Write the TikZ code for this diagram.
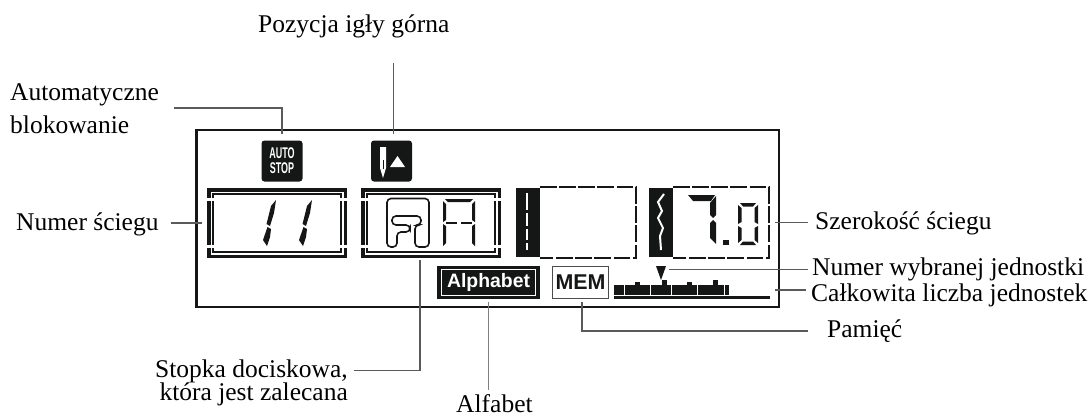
\documentclass[tikz,border=0pt]{standalone}
\usepackage{fontspec}
\setmainfont{Liberation Serif}
\setsansfont{Liberation Sans}
\definecolor{lcdblack}{HTML}{151716}
\definecolor{leadergray}{HTML}{5A5A5A}
\tikzset{
    label text/.style={inner sep=0pt, font=\fontsize{25.5}{30}\selectfont},
    leader/.style={line width=1.1pt, leadergray},
    icon box/.style={fill=lcdblack, rounded corners=3pt, minimum size=41pt, inner sep=0pt, text=white},
    lcd outer/.style={draw=lcdblack, line width=3.5pt, minimum width=136.5pt, minimum height=66.5pt, inner sep=0pt},
    lcd inner/.style={draw=lcdblack, line width=1.8pt, minimum width=128.2pt, minimum height=58.2pt, inner sep=0pt},
    lcd blank/.style={minimum width=96pt, minimum height=70pt, inner sep=0pt},
    lcd dash/.style={lcdblack, line width=2pt, dash pattern=on 16.7pt off 2.5pt},
    segment/.style={fill=lcdblack}
}
\begin{document}
\begin{tikzpicture}[x=1pt, y=-1pt]
    \useasboundingbox (0,0) rectangle (1089,416);

    % --- Ramka wyswietlacza ---
    \draw[lcdblack, line width=2.3pt] (196.5,130) rectangle (779,307);

    % --- Ikony ---
    \node[icon box, font=\sffamily\bfseries\fontsize{15.5}{15}\selectfont, align=center] (iconAuto) at (282,161) {\scalebox{.58}[1]{AUTO}\\\scalebox{.58}[1]{STOP}};
    \node[icon box] (iconNeedle) at (391.5,161) {};
    \fill[white] (380,147) -- (386,147) -- (386,168) -- (383,178) -- (380,168) -- cycle;
    \draw[lcdblack, line width=.6pt] (383,160) -- (383,169);
    \fill[white] (390,167) -- (397.5,156) -- (405,167) -- cycle;

    % --- Pola z podwojna ramka ---
    \node[lcd outer] (boxNum) at (277,223) {};
    \node[lcd inner] (boxNumIn) at (boxNum) {};
    \node[lcd outer] (boxFoot) at (431,223) {};
    \node[lcd inner] (boxFootIn) at (boxFoot) {};
    \foreach \b in {boxNum, boxFoot} {
        \fill[white] ([xshift=-1pt, yshift=-25pt]\b.west) rectangle ([xshift=8pt, yshift=-22pt]\b.west);
        \fill[white] ([xshift=-1pt, yshift=22pt]\b.west) rectangle ([xshift=8pt, yshift=25pt]\b.west);
        \fill[white] ([xshift=-8pt, yshift=-25pt]\b.east) rectangle ([xshift=1pt, yshift=-22pt]\b.east);
        \fill[white] ([xshift=-8pt, yshift=22pt]\b.east) rectangle ([xshift=1pt, yshift=25pt]\b.east);
    }

    % Cyfry 11
    \foreach \x in {0, 36} {
        \fill[segment, xshift=\x pt] (276,200) -- (271,206) -- (266.5,224) -- (270,226) -- (274,213) -- cycle;
        \fill[segment, xshift=\x pt] (267.5,227) -- (263,240) -- (267,246) -- (270,237) -- (271,229) -- cycle;
    }

    % Stopka
    \draw[lcdblack, line width=1.6pt, rounded corners=4pt] (415,247) -- (415,225) -- (421,225) -- (421,216) -- (392,216) -- (392,225) -- (410,225) -- (410,232) -- (397,232) -- (397,247) -- (387,247) -- (387,198.5) -- (429,198.5) -- (429,247) -- cycle;

    % Litera A
    \fill[segment] (445,199) -- (473,199) -- (470,202) -- (448,202) -- cycle;
    \fill[segment] (443,201) -- (446,204) -- (446,220) -- (443,222) -- cycle;
    \fill[segment] (443,224) -- (446,226) -- (446,243) -- (443,246) -- cycle;
    \fill[segment] (475,201) -- (472,204) -- (472,220) -- (475,222) -- cycle;
    \fill[segment] (475,224) -- (472,226) -- (472,243) -- (475,246) -- cycle;
    \fill[segment] (446,221.5) rectangle (457,224);
    \fill[segment] (461,221.5) rectangle (472,224);

    % --- Pola sciegu ---
    \node[lcd blank] (boxLength) at (588,222.5) {};
    \node[lcd blank] (boxWidth) at (721,222.5) {};
    \foreach \b in {boxLength, boxWidth} {
        \draw[lcd dash] (\b.north west) -- (\b.north east) -- (\b.south east) -- (\b.south west);
        \fill[lcdblack] ([xshift=-24pt, yshift=-1pt]\b.north west) rectangle ([yshift=1pt]\b.south west);
    }
    \foreach \a/\b in {193/210, 213/226, 229/240, 243/250} {
        \draw[white, line width=2.4pt] (526.7,\a) -- (526.7,\b);
    }
    \draw[white, line width=2pt] (664,194) -- (658,202) -- (662,211) -- (658,218) -- (663,228) -- (660,236) -- (661,250);

    % Cyfry 7.0
    \fill[segment] (688,195) -- (715,195) -- (711,201) -- (693,201) -- cycle;
    \fill[segment] (716,196) -- (716,215) -- (713,218) -- (710,215) -- (710,203) -- cycle;
    \fill[segment] (713,220) -- (716,223) -- (716,244) -- (710,238) -- (710,223) -- cycle;
    \fill[segment] (723,239.5) rectangle (729,245);
    \fill[segment] (740,203) -- (756,203) -- (753,206.5) -- (743,206.5) -- cycle;
    \fill[segment] (740,245) -- (756,245) -- (753,241.5) -- (743,241.5) -- cycle;
    \fill[segment] (738,205) -- (741.5,208) -- (741.5,222) -- (738,224) -- cycle;
    \fill[segment] (738,226) -- (741.5,228) -- (741.5,240) -- (738,243) -- cycle;
    \fill[segment] (758,205) -- (754.5,208) -- (754.5,222) -- (758,224) -- cycle;
    \fill[segment] (758,226) -- (754.5,228) -- (754.5,240) -- (758,243) -- cycle;

    % --- Dolny rzad ---
    \node[fill=lcdblack, minimum width=103pt, minimum height=33pt, inner sep=0pt] (iconAlpha) at (488.5,282.5) {};
    \node[draw=white, line width=1pt, text=white, font=\sffamily\bfseries\fontsize{19.4}{22}\selectfont, minimum width=94pt, minimum height=26pt, inner sep=0pt] (iconAlphaIn) at (iconAlpha) {Alphabet};
    \node[draw=black!70, line width=1.3pt, text=lcdblack, font=\sffamily\bfseries\fontsize{21.4}{24}\selectfont, minimum width=56pt, minimum height=32pt, inner sep=0pt] (iconMem) at (580.5,282.5) {MEM};

    % Wskaznik jednostek
    \fill[lcdblack] (656,266) -- (666,266) -- (661,280) -- cycle;
    \fill[lcdblack] (614,285) rectangle (729,295);
    \fill[lcdblack] (614,296) rectangle (770,299);
    \foreach \x in {635, 687} {
        \fill[lcdblack] (\x,282) rectangle (\x+5,285);
    }
    \foreach \x in {662, 713} {
        \fill[lcdblack] (\x,280) rectangle (\x+5,285);
    }
    \foreach \x in {624.5, 650.5, 671.5, 697.5, 724.5} {
        \draw[white, line width=.8pt] (\x,285) -- (\x,295.5);
    }

    % --- Opisy ---
    \node[label text, anchor=base west] (labNeedle) at (258,32) {Pozycja igły górna};
    \node[label text, anchor=base west, align=left, font=\fontsize{25.5}{33}\selectfont] (labAuto) at (10,133) {Automatyczne\\blokowanie};
    \node[label text, anchor=base west] (labNum) at (16,230) {Numer ściegu};
    \node[label text, anchor=base east, align=right, font=\fontsize{25.5}{22}\selectfont] (labFoot) at (348,400) {Stopka dociskowa,\\[-1.5pt]która jest zalecana};
    \node[label text, anchor=base west] (labAlpha) at (456,412) {Alfabet};
    \node[label text, anchor=base west] (labWidth) at (815,229) {Szerokość ściegu};
    \node[label text, anchor=base west] (labSel) at (812,275) {Numer wybranej jednostki};
    \node[label text, anchor=base west] (labTotal) at (811,301) {Całkowita liczba jednostek};
    \node[label text, anchor=base west] (labMem) at (827,337) {Pamięć};

    % --- Linie opisow ---
    \coordinate (autoBend) at (282,108);
    \coordinate (needleTop) at ([xshift=2pt]iconNeedle.north);
    \coordinate (footBend) at (420,370.5);
    \coordinate (memBend) at (582,331);
    \coordinate (pointer) at (669,269.5);
    \coordinate (levelEnd) at (775,290);
    \draw[leader, shorten <=15pt, shorten >=6pt] (autoBend -| labAuto.east) -- (autoBend) -- (iconAuto.north);
    \draw[leader, shorten <=25pt, shorten >=6pt] (labNeedle.south -| needleTop) -- (needleTop);
    \draw[leader, shorten <=12pt, shorten >=5pt] (boxNum.west -| labNum.east) -- (boxNum.west);
    \draw[leader, shorten <=2pt, shorten >=6pt] (boxFoot.south -| footBend) -- (footBend) -- (footBend -| labFoot.east);
    \draw[leader, line width=1.5pt, shorten <=3pt, shorten >=4pt, black!50] (iconAlpha.south) -- (iconAlpha.south |- labAlpha.north);
    \draw[leader, shorten <=3pt, shorten >=19pt] (iconMem.south -| memBend) -- (memBend) -- (memBend -| labMem.west);
    \draw[leader, shorten <=6pt, shorten >=7pt] (boxWidth.east) -- (boxWidth.east -| labWidth.west);
    \draw[leader, shorten >=4pt] (pointer) -- (pointer -| labSel.west);
    \draw[leader, shorten >=5pt] (levelEnd) -- (levelEnd -| labTotal.west);
\end{tikzpicture}
\end{document}
